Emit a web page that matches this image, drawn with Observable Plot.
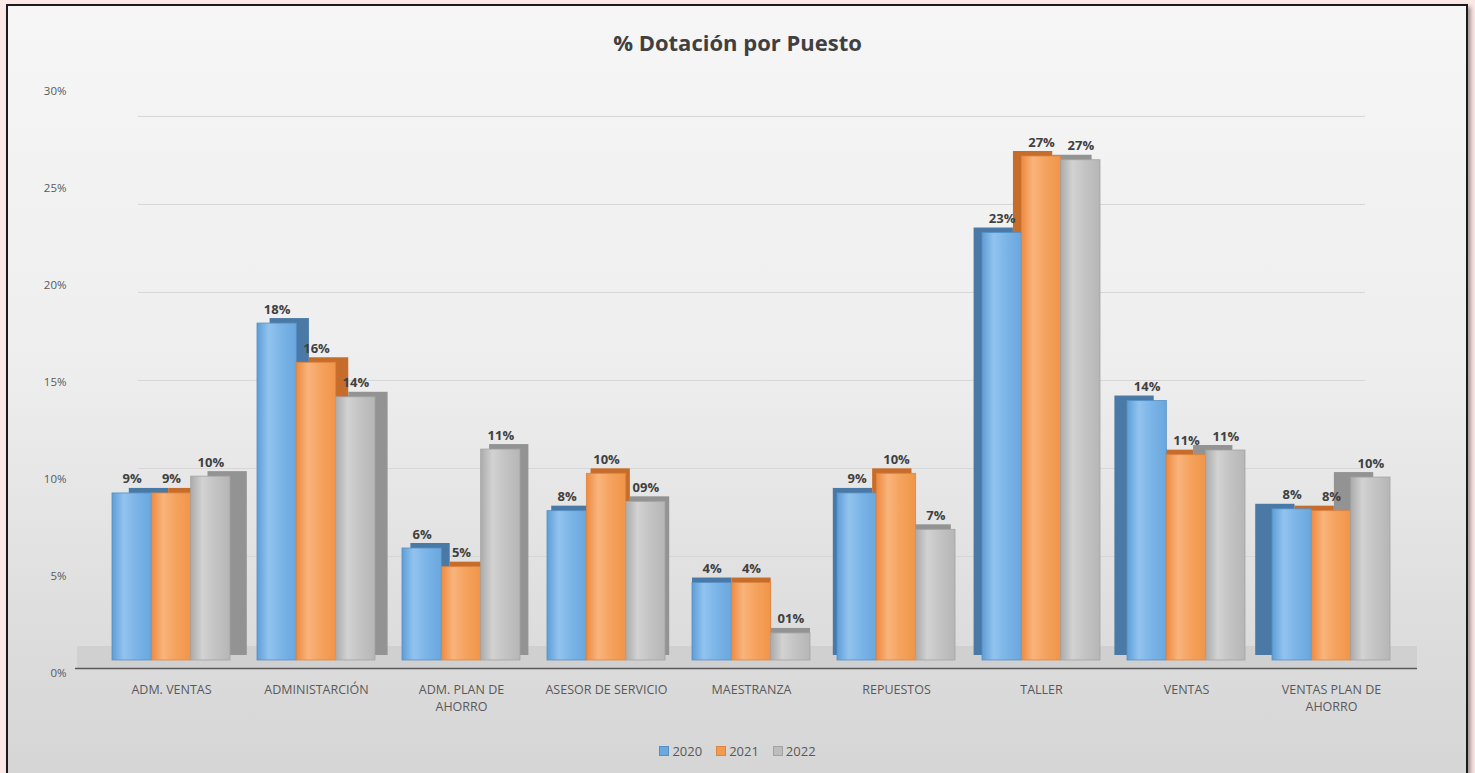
<!DOCTYPE html>
<html>
<head>
<meta charset="utf-8">
<script src="https://cdn.jsdelivr.net/npm/d3@7"></script>
<script src="https://cdn.jsdelivr.net/npm/@observablehq/plot@0.6"></script>
<style>
  html, body { margin: 0; padding: 0; width: 1475px; height: 773px; overflow: hidden; background: #fce9e7; font-family: "Open Sans", sans-serif; }
  #frame { position: absolute; left: 6px; top: 4px; width: 1458px; height: 800px; border: 2px solid #1b1b1b;
           background: linear-gradient(to bottom, #f6f6f6 0%, #eeeeee 45%, #dcdcdc 80%, #d4d4d4 100%);
           box-shadow: 3px 3px 4px rgba(0,0,0,0.35); }
  #title { position: absolute; left: 0; width: 1475px; top: 27px; text-align: center; font-size: 22px; font-weight: 700; color: #404040; }
  #chart { position: absolute; left: 0; top: 70px; }
  #legend { position: absolute; left: 0; width: 1475px; top: 742px; display: flex; justify-content: center; gap: 14px; font-size: 13px; color: #595959; }
  #legend span.item { display: inline-flex; align-items: center; gap: 3px; }
  #legend span.sw { display: inline-block; width: 8px; height: 8px; border: 1px solid; }
</style>
</head>
<body>
<div id="frame"></div>
<div id="title">% Dotación por Puesto</div>
<div id="chart"></div>
<div id="legend"></div>
<script>
// ---- data ----
const categories = ["ADM. VENTAS", "ADMINISTARCIÓN", "ADM. PLAN DE AHORRO", "ASESOR DE SERVICIO", "MAESTRANZA", "REPUESTOS", "TALLER", "VENTAS", "VENTAS PLAN DE AHORRO"];
const years = ["2020", "2021", "2022"];
const values2020 = [8.95, 18.05, 6.0, 8.0, 4.15, 8.95, 22.9, 13.9, 8.1];
const values2021 = [8.95, 15.95, 5.0, 10.0, 4.15, 10.0, 27.0, 11.0, 8.0];
const values2022 = [9.85, 14.1, 11.3, 8.5, 1.45, 7.0, 26.8, 11.25, 9.8];
const labels2020 = ["9%", "18%", "6%", "8%", "4%", "9%", "23%", "14%", "8%"];
const labels2021 = ["9%", "16%", "5%", "10%", "4%", "10%", "27%", "11%", "8%"];
const labels2022 = ["10%", "14%", "11%", "09%", "01%", "7%", "27%", "11%", "10%"];
const yTicks = [0, 5, 10, 15, 20, 25, 30];

// ---- styles ----
const frontColors = ["#6aa8df", "#f29a50", "#bdbdbd"];
const sideColors = ["#4a79a6", "#c76d2c", "#939393"];
const edgeColors = ["#5590c6", "#de8440", "#a3a3a3"];

const W = 1475, H = 650, mL = 85, mR = 58, pad = 0.186;
const step = (W - mL - mR) / (categories.length - pad + 2 * pad);
const bw = step * (1 - pad) / years.length;

const valueSets = [values2020, values2021, values2022];
const labelSets = [labels2020, labels2021, labels2022];
const series = years.map((y, j) => ({
  year: y,
  rows: categories.map((c, i) => ({cat: c, value: valueSets[j][i], label: labelSets[j][i]}))
}));

// 3D projection helpers (front plane for tick labels, back wall for gridlines)
const frontPlane = t => 1.039 * t - 0.696;
const backWall = t => 0.857 + 0.943 * t;

const marks = [];
// back-wall gridlines
marks.push(Plot.ruleY(yTicks.filter(t => t > 0), {y: backWall, stroke: "#d6d6d6", strokeWidth: 1, insetLeft: 53, insetRight: 52}));
// floor
marks.push(Plot.ruleY([0], {stroke: "#d0d0d0", strokeWidth: 22, dy: -3.5, insetLeft: -8}));
marks.push(Plot.ruleY([0], {stroke: "#5a5a5a", strokeWidth: 1.6, dy: 8, insetLeft: -10}));
// depth faces (side + top) of each bar
series.forEach((s, j) => {
  categories.forEach((c, i) => {
    marks.push(Plot.barY(s.rows.filter(r => r.cat === c), {
      x: "cat", y: "value", fill: sideColors[j], dx: (4 - i) * 4.2, dy: -5,
      insetLeft: j * bw, insetRight: (years.length - 1 - j) * bw
    }));
  });
});
// front faces
series.forEach((s, j) => {
  marks.push(Plot.barY(s.rows, {
    x: "cat", y: "value", fill: `url(#grad${j})`, stroke: edgeColors[j], strokeWidth: 0.8,
    insetLeft: j * bw, insetRight: (years.length - 1 - j) * bw
  }));
});
// data labels
series.forEach((s, j) => {
  marks.push(Plot.text(s.rows, {
    x: "cat", y: "value", text: "label", dx: (j - 1) * bw, dy: -10, lineAnchor: "bottom",
    fontSize: 13, fontWeight: 700, fill: "#404040"
  }));
});
// axes
marks.push(Plot.axisY({ticks: yTicks.map(frontPlane), tickSize: 0, tickPadding: 19, label: null,
  tickFormat: u => Math.round((u + 0.696) / 1.039) + "%", fontSize: 11.5, fill: "#595959"}));
marks.push(Plot.axisX({tickSize: 0, tickPadding: 22, label: null,
  tickFormat: d => d.replace(" DE AHORRO", " DE\nAHORRO"), fontSize: 12.5, lineHeight: 1.35, fill: "#595959", lineAnchor: "top"}));

const svg = Plot.plot({
  width: W, height: H,
  marginLeft: mL, marginRight: mR, marginTop: 30, marginBottom: 60,
  x: {domain: categories, padding: pad},
  y: {domain: [0, 30]},
  style: {background: "transparent", fontFamily: "Open Sans, sans-serif", overflow: "visible"},
  marks
});

const gradStops = [
  ["#5e9ed6", "#92c3ef", "#7cb5e7", "#69a7de"],
  ["#ee8a40", "#f9b47c", "#f5a35f", "#f09549"],
  ["#ababab", "#d2d2d2", "#c4c4c4", "#b6b6b6"]
];
const defs = `<defs>${gradStops.map((st, j) => `<linearGradient id="grad${j}" x1="0" x2="1" y1="0" y2="0">
  <stop offset="0%" stop-color="${st[0]}"/><stop offset="30%" stop-color="${st[1]}"/>
  <stop offset="60%" stop-color="${st[2]}"/><stop offset="100%" stop-color="${st[3]}"/></linearGradient>`).join("")}</defs>`;
svg.insertAdjacentHTML("afterbegin", defs);
document.getElementById("chart").appendChild(svg);

// legend
const legend = document.getElementById("legend");
years.forEach((y, j) => {
  const item = document.createElement("span");
  item.className = "item";
  item.innerHTML = `<span class="sw" style="background:${frontColors[j]};border-color:${edgeColors[j]}"></span>${y}`;
  legend.appendChild(item);
});
</script>
</body>
</html>
